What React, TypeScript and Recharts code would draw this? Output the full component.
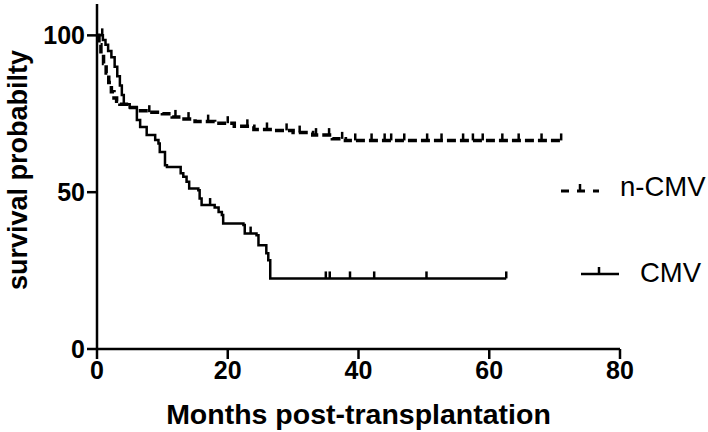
import React from "react";
import { Line, LineChart, XAxis, YAxis } from "recharts";

// step points: time (months) and survival (%)
const cmvTimes = [0, 0.9, 1.3, 1.7, 2.2, 2.7, 3.1, 3.5, 3.8, 4.1, 5, 6.1, 6.6, 7.6, 8.9, 9.4, 9.6, 10.4, 10.7, 12.8, 13.2, 13.7, 14.1, 15.5, 15.7, 16, 18, 18.6, 19.1, 19.3, 22.4, 22.6, 24.4, 24.7, 25.9, 26.2, 26.5];
const cmvSurvival = [100, 98.5, 97, 95, 93, 90, 87, 84, 81, 78, 77, 73, 70.8, 68.2, 66.6, 65.5, 62.8, 58.6, 58, 56, 54.9, 53.3, 51.2, 50.6, 48, 45.9, 45.1, 43.7, 42.7, 40, 39.5, 36.8, 36.3, 33.1, 30.5, 28.3, 22.5];
const cmvCensored = [0.8, 17.3, 23.5, 35, 35.6, 38.7, 42.4, 50.4, 62.6];
const cmvEnd = 62.6;

const ncmvTimes = [0, 0.3, 0.6, 1.0, 1.4, 1.8, 2.2, 2.6, 3.0, 3.5, 4.5, 6, 8, 10, 11.5, 13, 15, 18, 21, 24, 27, 30, 33, 36, 38];
const ncmvSurvival = [100, 97, 94, 91, 88, 85, 82, 80, 79, 78, 77, 76, 75.5, 75, 74, 73.3, 72.5, 72, 71, 70, 69.7, 69, 68.2, 67, 66.5];
const ncmvCensored = [8, 12, 14, 17, 20, 23, 26, 29, 31, 33.5, 35.5, 37.5, 39.5, 42, 44, 45, 47, 50.5, 52.7, 56, 57.5, 59, 62, 64.5, 68, 71];
const ncmvEnd = 71;

const xTicks = [0, 20, 40, 60, 80];
const yTicks = [0, 50, 100];

type Pt = { t: number; s: number; c?: boolean };

function buildSeries(times: number[], surv: number[], censored: number[], end: number): Pt[] {
  const valueAt = (t: number) => {
    let v = surv[0];
    times.forEach((tt, i) => {
      if (tt <= t) v = surv[i];
    });
    return v;
  };
  const pts: Pt[] = times.map((t, i) => ({ t, s: surv[i] }));
  censored.forEach((t) => pts.push({ t, s: valueAt(t), c: true }));
  if (!censored.includes(end)) pts.push({ t: end, s: valueAt(end) });
  return pts.sort((a, b) => a.t - b.t);
}

const cmvData = buildSeries(cmvTimes, cmvSurvival, cmvCensored, cmvEnd);
const ncmvData = buildSeries(ncmvTimes, ncmvSurvival, ncmvCensored, ncmvEnd);

const FONT = "'Liberation Sans', Arial, sans-serif";

function CensorDot(props: any) {
  const { cx, cy, payload } = props;
  if (!payload || !payload.c || cx == null) return <g />;
  return <line x1={cx} y1={cy} x2={cx} y2={cy - 7} stroke="#000" strokeWidth={2.5} />;
}

function YTitle() {
  return (
    <text x={27} y={170} transform="rotate(-90 27 170)" textAnchor="middle" fill="#000" fontSize={27} fontWeight="bold" fontFamily={FONT}>
      survival probabilty
    </text>
  );
}

export default function App() {
  return (
    <div style={{ position: "absolute", left: 0, top: 0, width: 708, height: 432, background: "#fff", fontFamily: FONT }}>
      <LineChart width={708} height={432} margin={{ top: 4, right: 88, left: 0, bottom: 0 }}>
        <XAxis
          type="number"
          dataKey="t"
          domain={[0, 80]}
          ticks={xTicks}
          height={83}
          tickSize={10}
          stroke="#000"
          strokeWidth={2.5}
          tick={{ fill: "#000", fontSize: 25, fontWeight: "bold", fontFamily: FONT }}
          allowDuplicatedCategory={false}
          label={{ value: "Months post-transplantation", position: "insideBottom", offset: 8, fill: "#000", fontSize: 28.5, fontWeight: "bold", fontFamily: FONT }}
        />
        <YAxis
          type="number"
          dataKey="s"
          domain={[0, 110]}
          ticks={yTicks}
          width={97}
          tickSize={10}
          stroke="#000"
          strokeWidth={2.5}
          tick={{ fill: "#000", fontSize: 25, fontWeight: "bold", fontFamily: FONT }}
          label={{ content: () => <YTitle /> }}
        />
        <Line data={ncmvData} dataKey="s" type="stepAfter" stroke="#000" strokeWidth={3.5} strokeDasharray="9 4" dot={<CensorDot />} activeDot={false} isAnimationActive={false} />
        <Line data={cmvData} dataKey="s" type="stepAfter" stroke="#000" strokeWidth={2.5} dot={<CensorDot />} activeDot={false} isAnimationActive={false} />
      </LineChart>
      <svg style={{ position: "absolute", left: 555, top: 175 }} width={50} height={30}>
        <line x1={6} y1={16} x2={44} y2={16} stroke="#000" strokeWidth={3} strokeDasharray="8 8" />
        <line x1={25} y1={16} x2={25} y2={9} stroke="#000" strokeWidth={2.5} />
      </svg>
      <div style={{ position: "absolute", left: 620, top: 172, fontSize: 27.5, lineHeight: "30px", color: "#000" }}>n-CMV</div>
      <svg style={{ position: "absolute", left: 575, top: 260 }} width={50} height={30}>
        <line x1={6} y1={14} x2={44} y2={14} stroke="#000" strokeWidth={2.5} />
        <line x1={24} y1={14} x2={24} y2={7} stroke="#000" strokeWidth={2.5} />
      </svg>
      <div style={{ position: "absolute", left: 640, top: 258, fontSize: 27.5, lineHeight: "30px", color: "#000" }}>CMV</div>
    </div>
  );
}
